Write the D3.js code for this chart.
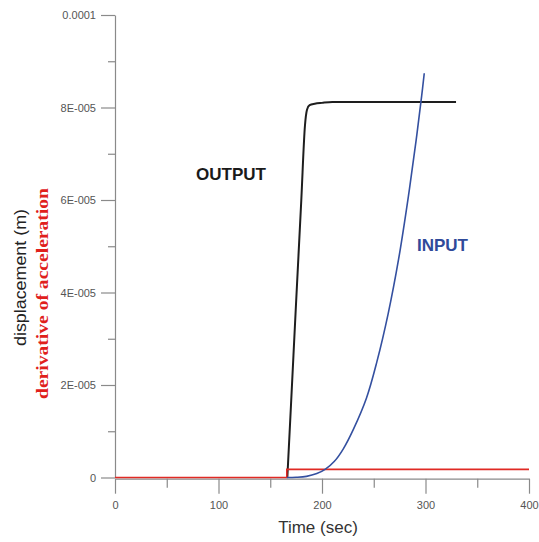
<!DOCTYPE html>
<html>
<head>
<meta charset="utf-8">
<script src="https://cdn.jsdelivr.net/npm/d3@7"></script>
<style>
  html, body { margin: 0; padding: 0; background: #fff; }
  svg { display: block; }
</style>
</head>
<body>
<svg id="chart" width="539" height="542"></svg>
<script>
// Time axis (sec) and tick labels
const xTicks = [0, 100, 200, 300, 400];
const xMinorTicks = [50, 150, 250, 350];
const yTicks = [0, 2e-5, 4e-5, 6e-5, 8e-5, 1e-4];
const yTickLabels = ["0", "2E-005", "4E-005", "6E-005", "8E-005", "0.0001"];
const yMinorTicks = [1e-5, 3e-5, 5e-5, 7e-5, 9e-5];

// OUTPUT: displacement response (m)
const outputTime  = [166.5, 170, 175, 180, 183.5, 185.5, 188, 193, 200, 210, 329.5];
const outputValue = [0, 1.55e-5, 3.8e-5, 6.0e-5, 7.6e-5, 7.95e-5, 8.05e-5, 8.08e-5, 8.1e-5, 8.12e-5, 8.12e-5];

// INPUT: displacement excitation (m)
const inputTime  = [166, 175, 185, 195, 203, 212, 220.6, 230.3, 243, 253, 264, 274, 283.4, 291, 296.3, 298.8];
const inputValue = [0, 5e-8, 2.5e-7, 8.5e-7, 1.75e-6, 3.5e-6, 6.2e-6, 1.04e-5, 1.72e-5, 2.5e-5, 3.55e-5, 4.72e-5, 6.07e-5, 7.3e-5, 8.25e-5, 8.74e-5];

// Derivative of acceleration: step input
const jerkTime  = [0, 166, 166, 400];
const jerkValue = [0, 0, 1.75e-6, 1.75e-6];

const svg = d3.select("#chart");

const x = d3.scaleLinear().domain([0, 400]).range([115, 529]);
const y = d3.scaleLinear().domain([0, 1e-4]).range([477.5, 15]);

const axisColor = "#8a8a8a";
const labelColor = "#555";

// Y axis: major ticks with labels, then minor ticks
const yAxis = svg.append("g")
  .attr("transform", `translate(${x(0)},0)`)
  .call(d3.axisLeft(y).tickValues(yTicks).tickSize(14).tickSizeOuter(0)
    .tickFormat((d, i) => yTickLabels[i]).tickPadding(5));
yAxis.select(".domain").attr("stroke", axisColor).attr("stroke-width", 1.2);
yAxis.selectAll(".tick line").attr("stroke", axisColor).attr("stroke-width", 1.2);
yAxis.selectAll(".tick text")
  .attr("fill", labelColor).attr("font-family", "Liberation Sans, Arial, sans-serif")
  .attr("font-size", 11);

const yMinor = svg.append("g")
  .attr("transform", `translate(${x(0)},0)`)
  .call(d3.axisLeft(y).tickValues(yMinorTicks).tickSize(7).tickSizeOuter(0).tickFormat(""));
yMinor.select(".domain").remove();
yMinor.selectAll(".tick line").attr("stroke", axisColor).attr("stroke-width", 1.2);

// X axis: major ticks with labels, then minor ticks
const xAxisY = y(0) + 1.2;
const xAxis = svg.append("g")
  .attr("transform", `translate(0,${xAxisY})`)
  .call(d3.axisBottom(x).tickValues(xTicks).tickSize(15).tickSizeOuter(0)
    .tickFormat(d3.format("d")).tickPadding(8));
xAxis.select(".domain").attr("stroke", axisColor).attr("stroke-width", 1.2);
xAxis.selectAll(".tick line").attr("stroke", axisColor).attr("stroke-width", 1.2);
xAxis.selectAll(".tick text")
  .attr("fill", labelColor).attr("font-family", "Liberation Sans, Arial, sans-serif")
  .attr("font-size", 11);

const xMinor = svg.append("g")
  .attr("transform", `translate(0,${xAxisY})`)
  .call(d3.axisBottom(x).tickValues(xMinorTicks).tickSize(9).tickSizeOuter(0).tickFormat(""));
xMinor.select(".domain").remove();
xMinor.selectAll(".tick line").attr("stroke", axisColor).attr("stroke-width", 1.2);

// Axis titles
svg.append("text")
  .attr("x", 318).attr("y", 533)
  .attr("text-anchor", "middle")
  .attr("font-family", "Liberation Sans, Arial, sans-serif")
  .attr("font-size", 17)
  .attr("fill", "#333")
  .text("Time (sec)");

svg.append("text")
  .attr("transform", "translate(26,277.5) rotate(-90)")
  .attr("text-anchor", "middle")
  .attr("font-family", "Liberation Sans, Arial, sans-serif")
  .attr("font-size", 16)
  .attr("fill", "#222")
  .attr("textLength", 137).attr("lengthAdjust", "spacingAndGlyphs")
  .text("displacement (m)");

svg.append("text")
  .attr("transform", "translate(48,293.5) rotate(-90)")
  .attr("text-anchor", "middle")
  .attr("font-family", "Liberation Serif, Times New Roman, serif")
  .attr("font-weight", "bold")
  .attr("font-size", 16)
  .attr("fill", "#e0201c")
  .attr("textLength", 211).attr("lengthAdjust", "spacingAndGlyphs")
  .text("derivative of acceleration");

// Curves
const pts = (t, v) => t.map((d, i) => [d, v[i]]);
const line = d3.line().x(d => x(d[0])).y(d => y(d[1]));
const stepCurve = d3.line().x(d => x(d[0])).y(d => y(d[1])).curve(d3.curveMonotoneX);
const smoothCurve = d3.line().x(d => x(d[0])).y(d => y(d[1])).curve(d3.curveCatmullRom.alpha(0.5));

svg.append("path")
  .datum(pts(outputTime, outputValue))
  .attr("d", stepCurve)
  .attr("fill", "none")
  .attr("stroke", "#1e1e1e")
  .attr("stroke-width", 2);

svg.append("path")
  .datum(pts(jerkTime, jerkValue))
  .attr("d", line)
  .attr("fill", "none")
  .attr("stroke", "#e02a24")
  .attr("stroke-width", 1.6);

svg.append("path")
  .datum(pts(inputTime, inputValue))
  .attr("d", smoothCurve)
  .attr("fill", "none")
  .attr("stroke", "#3450a0")
  .attr("stroke-width", 1.6);

// Curve labels
svg.append("text")
  .attr("x", 196).attr("y", 180)
  .attr("font-family", "Liberation Sans, Arial, sans-serif")
  .attr("font-weight", "bold")
  .attr("font-size", 17)
  .attr("fill", "#1a1a1a")
  .attr("textLength", 70).attr("lengthAdjust", "spacingAndGlyphs")
  .text("OUTPUT");

svg.append("text")
  .attr("x", 417).attr("y", 251)
  .attr("font-family", "Liberation Sans, Arial, sans-serif")
  .attr("font-weight", "bold")
  .attr("font-size", 17)
  .attr("fill", "#2f4a9a")
  .attr("textLength", 51).attr("lengthAdjust", "spacingAndGlyphs")
  .text("INPUT");
</script>
</body>
</html>
